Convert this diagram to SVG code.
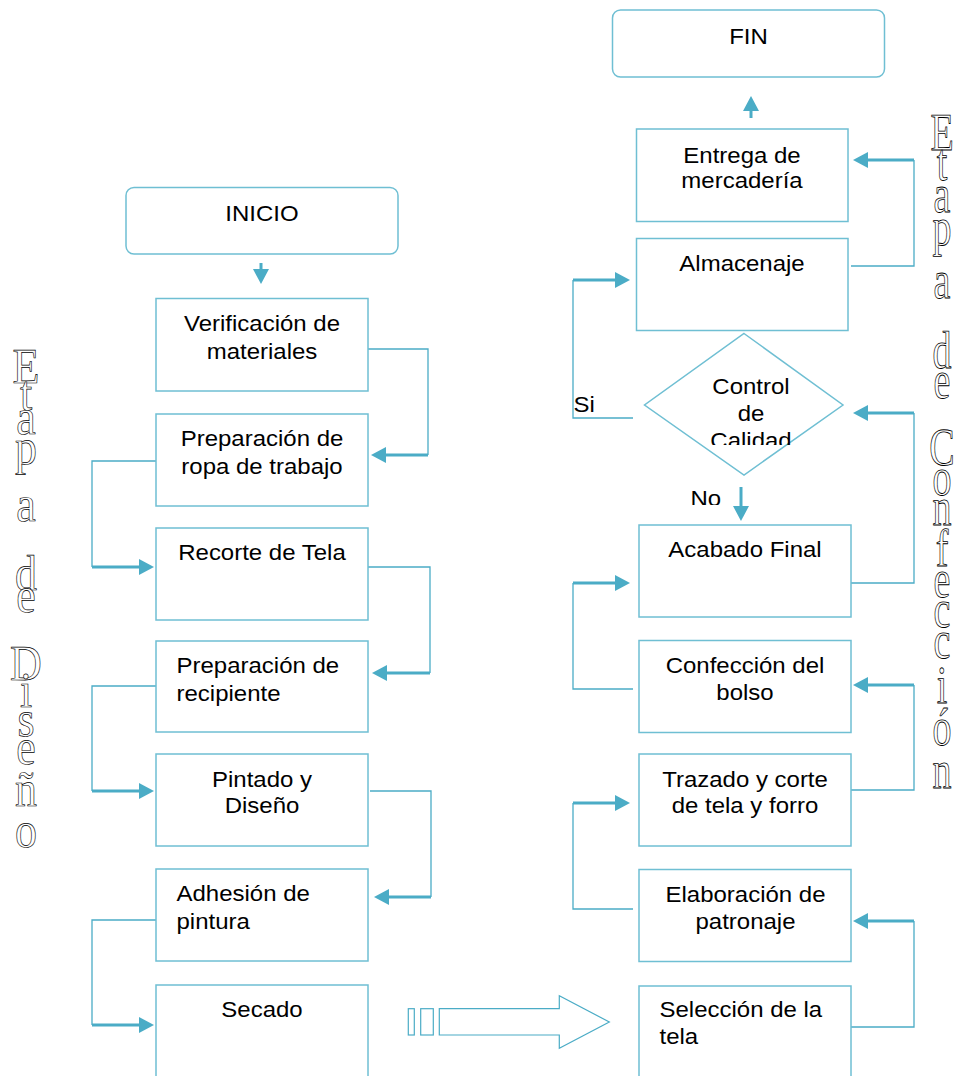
<svg xmlns="http://www.w3.org/2000/svg" width="959" height="1076" viewBox="0 0 959 1076">
  <style>
    .box { fill: #fff; stroke: #6fbfd3; stroke-width: 1.5; }
    .term { fill: #fff; stroke: #6fbfd3; stroke-width: 1.5; }
    .thin { fill: none; stroke: #4bacc6; stroke-width: 1.3; }
    .thick { fill: none; stroke: #4bacc6; stroke-width: 3; marker-end: url(#head); }
    .lbl { font-family: "Liberation Sans", Arial, sans-serif; font-size: 24px; fill: #000; }
    .mid { text-anchor: middle; }
    .wa { font-family: "Liberation Serif", "Times New Roman", serif; fill: #fff; stroke: #000; stroke-width: 0.6; text-anchor: middle; text-rendering: geometricPrecision; }
  </style>
  <defs>
    <marker id="head" markerUnits="userSpaceOnUse" markerWidth="16" markerHeight="16" refX="0" refY="8" orient="auto" viewBox="0 0 16 16">
      <path d="M0,0 L15,8 L0,16 Z" fill="#4bacc6"/>
    </marker>
    <clipPath id="diaClip"><rect x="640" y="330" width="210" height="115"/></clipPath>
    <clipPath id="noClip"><rect x="680" y="480" width="50" height="25"/></clipPath>
  </defs>

  <rect width="959" height="1076" fill="#fff"/>

  <!-- side captions: one letter per line, outline lettering stretched vertically -->
  <g id="caption-diseno">
    <text class="wa" font-size="44" transform="translate(26,0) scale(1,1.14)"><tspan x="0" y="335.96">E</tspan><tspan x="0" y="359.65">t</tspan><tspan x="0" y="380.70">a</tspan><tspan x="0" y="407.02">p</tspan><tspan x="0" y="457.02">a</tspan><tspan x="0" y="517.54">d</tspan><tspan x="0" y="536.84">e</tspan><tspan x="0" y="596.49">D</tspan><tspan x="0" y="620.18">i</tspan><tspan x="0" y="645.61">s</tspan><tspan x="0" y="670.18">e</tspan><tspan x="0" y="707.02">ñ</tspan><tspan x="0" y="742.98">o</tspan></text>
  </g>
  <g id="caption-confeccion">
    <text class="wa" font-size="38" transform="translate(942,0) scale(1,1.4)"><tspan x="0" y="107.14">E</tspan><tspan x="0" y="128.57">t</tspan><tspan x="0" y="151.43">a</tspan><tspan x="0" y="175">p</tspan><tspan x="0" y="212.86">a</tspan><tspan x="0" y="262.86">d</tspan><tspan x="0" y="284.29">e</tspan><tspan x="0" y="332.14">C</tspan><tspan x="0" y="353.57">o</tspan><tspan x="0" y="375">n</tspan><tspan x="0" y="404.29">f</tspan><tspan x="0" y="426.43">e</tspan><tspan x="0" y="447.86">c</tspan><tspan x="0" y="470">c</tspan><tspan x="0" y="502.14">i</tspan><tspan x="0" y="532.14">ó</tspan><tspan x="0" y="562.86">n</tspan></text>
  </g>

  <!-- connectors -->
  <g id="connectors">
    <!-- design stage -->
    <path class="thick" d="M261,263 V269"/>
    <path class="thin" d="M368,349 H428 V455"/>
    <path class="thick" d="M428,455 H386"/>
    <path class="thin" d="M156,461 H92 V567"/>
    <path class="thick" d="M92,567 H139"/>
    <path class="thin" d="M368,567 H430 V673"/>
    <path class="thick" d="M430,673 H387"/>
    <path class="thin" d="M156,686 H92 V791"/>
    <path class="thick" d="M92,791 H139"/>
    <path class="thin" d="M370,791 H431 V897"/>
    <path class="thick" d="M431,897 H389"/>
    <path class="thin" d="M156,920 H92 V1025"/>
    <path class="thick" d="M92,1025 H139"/>
    <!-- hand-over between stages -->
    <g fill="none" stroke="#4bacc6" stroke-width="1.2">
      <rect x="408.3" y="1008.7" width="6" height="26.3"/>
      <rect x="420.7" y="1008.7" width="12.6" height="26.3"/>
      <path d="M439.3,1008.7 H559.3 V995.7 L609.3,1022 L559.3,1048.3 V1035 H439.3 Z"/>
    </g>
    <!-- manufacturing stage -->
    <path class="thin" d="M851,1027 H914 V921"/>
    <path class="thick" d="M914,921 H868"/>
    <path class="thin" d="M633,909 H573 V803"/>
    <path class="thick" d="M573,803 H615"/>
    <path class="thin" d="M851,790 H914 V685"/>
    <path class="thick" d="M914,685 H868"/>
    <path class="thin" d="M633,689 H573 V583"/>
    <path class="thick" d="M573,583 H615"/>
    <path class="thin" d="M851,583 H914 V413"/>
    <path class="thick" d="M914,413 H868"/>
    <path class="thick" d="M741,487 V506"/>
    <path class="thin" d="M633,418 H573 V280"/>
    <path class="thick" d="M573,280 H615"/>
    <path class="thin" d="M851,266 H914 V160"/>
    <path class="thick" d="M914,160 H868"/>
    <path class="thick" d="M751,118 V111"/>
  </g>

  <!-- design stage nodes -->
  <g id="inicio">
    <rect class="term" x="126" y="187.5" width="272" height="66.5" rx="8"/>
    <text class="lbl mid" transform="translate(262,221) scale(1,0.92)">INICIO</text>
  </g>
  <g id="verificacion">
    <rect class="box" x="156" y="298.5" width="212" height="92.5"/>
    <text class="lbl mid" transform="translate(262,331) scale(1,0.92)"><tspan x="0">Verificación de</tspan><tspan x="0" dy="30">materiales</tspan></text>
  </g>
  <g id="ropa">
    <rect class="box" x="156" y="414" width="212" height="92"/>
    <text class="lbl mid" transform="translate(262,446) scale(1,0.92)"><tspan x="0">Preparación de</tspan><tspan x="0" dy="30">ropa de trabajo</tspan></text>
  </g>
  <g id="recorte">
    <rect class="box" x="156" y="528" width="212" height="92"/>
    <text class="lbl mid" transform="translate(262,560) scale(1,0.92)">Recorte de Tela</text>
  </g>
  <g id="recipiente">
    <rect class="box" x="156" y="641" width="212" height="91"/>
    <text class="lbl" transform="translate(176.5,673) scale(1,0.92)"><tspan x="0">Preparación de</tspan><tspan x="0" dy="30">recipiente</tspan></text>
  </g>
  <g id="pintado">
    <rect class="box" x="156" y="754" width="212" height="92"/>
    <text class="lbl mid" transform="translate(262,787) scale(1,0.92)"><tspan x="0">Pintado y</tspan><tspan x="0" dy="28">Diseño</tspan></text>
  </g>
  <g id="adhesion">
    <rect class="box" x="156" y="869" width="212" height="92"/>
    <text class="lbl" transform="translate(176.5,901) scale(1,0.92)"><tspan x="0">Adhesión de</tspan><tspan x="0" dy="30">pintura</tspan></text>
  </g>
  <g id="secado">
    <rect class="box" x="156" y="985" width="212" height="110"/>
    <text class="lbl mid" transform="translate(262,1017) scale(1,0.92)">Secado</text>
  </g>

  <!-- manufacturing stage nodes -->
  <g id="fin">
    <rect class="term" x="612.5" y="10" width="272" height="67" rx="8"/>
    <text class="lbl mid" transform="translate(748.5,43.5) scale(1,0.92)">FIN</text>
  </g>
  <g id="entrega">
    <rect class="box" x="636.5" y="129" width="211.5" height="92.5"/>
    <text class="lbl mid" transform="translate(742,162.5) scale(1,0.92)"><tspan x="0">Entrega de</tspan><tspan x="0" dy="28">mercadería</tspan></text>
  </g>
  <g id="almacenaje">
    <rect class="box" x="636.5" y="238.5" width="211.5" height="92"/>
    <text class="lbl mid" transform="translate(742,270.5) scale(1,0.92)">Almacenaje</text>
  </g>
  <g id="control">
    <path class="box" d="M744,333.5 L843,405 L744,475 L644.5,405 Z"/>
    <g clip-path="url(#diaClip)">
      <text class="lbl mid" transform="translate(751,393.5) scale(1,0.92)"><tspan x="0">Control</tspan><tspan x="0" dy="29.8">de</tspan><tspan x="0" dy="29.8">Calidad</tspan></text>
    </g>
    <text class="lbl" transform="translate(573.5,411.5) scale(1,0.92)">Si</text>
    <g clip-path="url(#noClip)">
      <text class="lbl" transform="translate(690.5,505.5) scale(1,0.92)">No</text>
    </g>
  </g>
  <g id="acabado">
    <rect class="box" x="639" y="525" width="212" height="92"/>
    <text class="lbl mid" transform="translate(745,557) scale(1,0.92)">Acabado Final</text>
  </g>
  <g id="confeccion">
    <rect class="box" x="639" y="640.5" width="212" height="92"/>
    <text class="lbl mid" transform="translate(745,673) scale(1,0.92)"><tspan x="0">Confección del</tspan><tspan x="0" dy="29">bolso</tspan></text>
  </g>
  <g id="trazado">
    <rect class="box" x="639" y="754" width="212" height="92"/>
    <text class="lbl mid" transform="translate(745,787) scale(1,0.92)"><tspan x="0">Trazado y corte</tspan><tspan x="0" dy="28.5">de tela y forro</tspan></text>
  </g>
  <g id="patronaje">
    <rect class="box" x="639" y="869.5" width="212" height="92"/>
    <text class="lbl mid" transform="translate(745.5,902) scale(1,0.92)"><tspan x="0">Elaboración de</tspan><tspan x="0" dy="29.5">patronaje</tspan></text>
  </g>
  <g id="seleccion">
    <rect class="box" x="639" y="986" width="212" height="110"/>
    <text class="lbl" transform="translate(659.5,1017) scale(1,0.92)"><tspan x="0">Selección de la</tspan><tspan x="0" dy="29.5">tela</tspan></text>
  </g>
</svg>
